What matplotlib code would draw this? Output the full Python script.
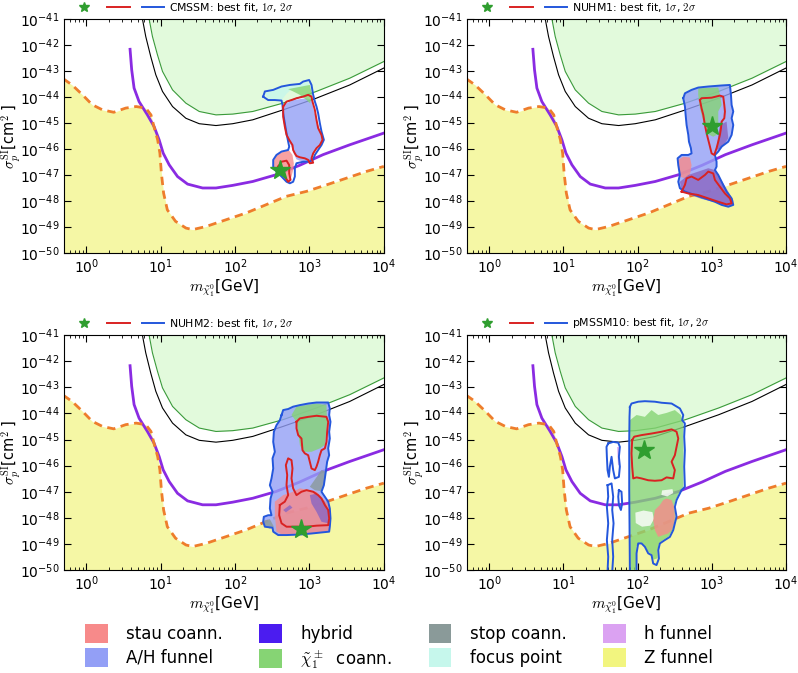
import numpy as np
import matplotlib.pyplot as plt
from matplotlib.lines import Line2D
from matplotlib.patches import Patch

plt.rcParams['mathtext.fontset'] = 'cm'
plt.rcParams['font.family'] = ['DejaVu Sans']
plt.rcParams['axes.unicode_minus'] = False

# all values below are log10(mass / GeV) and log10(sigma / cm^2)

# neutrino floor (orange dashed, yellow below)
floor_logm = [-0.31, -0.19, -0.05, 0.08, 0.22, 0.37, 0.53, 0.67, 0.80, 0.87, 0.91, 0.96, 0.99, 1.01,
              1.04, 1.09, 1.20, 1.34, 1.43, 1.61, 1.88, 2.15, 2.42, 2.69, 2.96, 3.23, 3.50, 3.77, 4.00]
floor_logsig = [-43.30, -43.54, -43.92, -44.30, -44.50, -44.59, -44.43, -44.37, -44.43, -44.69, -45.14,
                -45.65, -46.16, -46.93, -47.70, -48.34, -48.78, -49.04, -49.10, -48.98, -48.72, -48.46,
                -48.14, -47.82, -47.63, -47.38, -47.12, -46.86, -46.67]

# future sensitivity (purple)
future_logm = [0.589, 0.611, 0.643, 0.710, 0.822, 0.912, 0.980, 1.034, 1.115, 1.227, 1.362, 1.564, 1.744,
               1.968, 2.238, 2.553, 2.867, 3.182, 3.542, 4.000]
future_logsig = [-42.17, -42.96, -43.66, -44.18, -44.69, -45.14, -45.65, -46.16, -46.61, -47.06, -47.35,
                 -47.50, -47.50, -47.40, -47.25, -46.99, -46.63, -46.22, -45.84, -45.39]

# black limit
lux_logm = [0.755, 0.80, 0.867, 0.935, 1.025, 1.160, 1.339, 1.519, 1.744, 1.968, 2.238, 2.643, 3.092, 3.542, 4.000]
lux_logsig = [-41.00, -41.68, -42.45, -43.15, -43.79, -44.37, -44.82, -45.03, -45.10, -45.03, -44.88,
              -44.50, -44.05, -43.54, -42.89]

# green limit, excluded above
excl_logm = [0.845, 0.890, 0.957, 1.025, 1.160, 1.339, 1.519, 1.744, 1.968, 2.238, 2.643, 3.092, 3.542, 4.000]
excl_logsig = [-41.00, -41.68, -42.38, -43.02, -43.73, -44.24, -44.56, -44.69, -44.66, -44.56, -44.24,
               -43.79, -43.28, -42.64]

# ---------------- CMSSM
cmssm_best = (2.60, -46.80)
cmssm_2sig = [(2.378, -43.99), (2.401, -43.79), (2.513, -43.73), (2.625, -43.60), (2.737, -43.54),
              (2.871, -43.50), (2.916, -43.41), (2.996, -43.35), (3.028, -43.54), (3.050, -43.92),
              (3.073, -44.18), (3.095, -44.37), (3.117, -44.63), (3.140, -45.01), (3.162, -45.33),
              (3.194, -45.65), (3.162, -45.85), (3.117, -46.04), (3.073, -46.23), (3.050, -46.40),
              (3.005, -46.49), (2.916, -46.49), (2.826, -46.55), (2.804, -46.74), (2.804, -47.06),
              (2.781, -47.26), (2.737, -47.32), (2.692, -47.26), (2.625, -47.06), (2.557, -46.87),
              (2.513, -46.68), (2.513, -46.42), (2.557, -46.23), (2.625, -46.10), (2.714, -46.04),
              (2.728, -45.91), (2.714, -45.72), (2.692, -45.40), (2.669, -45.01), (2.647, -44.63),
              (2.638, -44.31), (2.625, -44.14), (2.535, -44.12), (2.445, -44.12)]
cmssm_1sig_a = [(2.647, -44.37), (2.692, -44.18), (2.759, -44.12), (2.826, -44.05), (2.916, -43.99),
                (2.983, -43.92), (3.028, -43.99), (3.041, -44.18), (3.073, -44.50), (3.095, -44.88),
                (3.117, -45.20), (3.162, -45.46), (3.176, -45.65), (3.140, -45.85), (3.095, -45.97),
                (3.050, -46.17), (3.028, -46.36), (3.050, -46.53), (3.005, -46.55), (2.983, -46.42),
                (2.938, -46.36), (2.871, -46.32), (2.826, -46.27), (2.804, -46.17), (2.781, -46.04),
                (2.772, -45.85), (2.728, -45.65), (2.692, -45.46), (2.669, -45.14), (2.647, -44.76)]
cmssm_1sig_b = [(2.580, -46.68), (2.625, -46.49), (2.692, -46.45), (2.728, -46.62), (2.728, -46.94),
                (2.746, -47.19), (2.714, -47.26), (2.669, -47.06), (2.625, -46.87), (2.580, -46.78)]
cmssm_focus = [(2.401, -43.86), (2.513, -43.76), (2.625, -43.63), (2.737, -43.58), (2.871, -43.54),
               (2.916, -43.45), (2.983, -43.41), (2.996, -43.54), (2.871, -43.67), (2.737, -43.76),
               (2.692, -43.88), (2.647, -44.05), (2.625, -44.14), (2.445, -44.09)]
cmssm_chargino = [(2.714, -43.70), (3.005, -43.54), (3.041, -43.99), (3.005, -44.24), (2.961, -44.12),
                  (2.871, -43.92), (2.781, -43.79)]
cmssm_ah = [(2.647, -44.31), (2.781, -44.12), (2.961, -44.05), (3.028, -44.12), (3.059, -44.50),
            (3.095, -44.88), (3.140, -45.27), (3.176, -45.59), (3.140, -45.85), (3.073, -46.10),
            (3.028, -46.36), (2.983, -46.53), (2.871, -46.45), (2.826, -46.40), (2.790, -46.17),
            (2.759, -45.91), (2.714, -45.65), (2.683, -45.27), (2.656, -44.76)]
cmssm_stau = [(2.513, -46.49), (2.557, -46.23), (2.647, -46.10), (2.728, -46.06), (2.772, -46.23),
              (2.790, -46.55), (2.781, -46.81), (2.759, -47.06), (2.728, -47.26), (2.669, -47.19),
              (2.602, -47.00), (2.535, -46.81)]

# ---------------- NUHM1
nuhm1_best = (3.00, -45.10)
nuhm1_2sig = [(2.615, -44.05), (2.638, -43.86), (2.727, -43.73), (2.817, -43.64), (2.952, -43.60),
              (3.132, -43.56), (3.244, -43.54), (3.258, -43.92), (3.267, -44.31), (3.289, -44.56),
              (3.267, -44.82), (3.289, -45.08), (3.267, -45.46), (3.222, -45.72), (3.132, -45.91),
              (3.087, -46.10), (3.042, -46.23), (3.064, -46.49), (3.064, -46.68), (3.042, -46.81),
              (3.087, -47.00), (3.132, -47.26), (3.199, -47.64), (3.267, -47.90), (3.289, -48.15),
              (3.222, -48.22), (3.132, -48.15), (3.042, -48.03), (2.907, -47.90), (2.772, -47.77),
              (2.638, -47.64), (2.570, -47.51), (2.548, -47.26), (2.570, -47.00), (2.548, -46.62),
              (2.539, -46.36), (2.593, -46.23), (2.683, -46.23), (2.727, -46.17), (2.718, -45.97),
              (2.692, -45.72), (2.683, -45.46), (2.660, -45.08), (2.647, -44.69), (2.638, -44.37)]
nuhm1_1sig_a = [(2.840, -44.12), (2.862, -44.05), (2.997, -44.03), (3.109, -43.95), (3.154, -43.99),
                (3.168, -44.31), (3.177, -44.56), (3.168, -44.82), (3.132, -44.95), (3.123, -45.21),
                (3.109, -45.46), (3.087, -45.72), (3.064, -45.97), (3.033, -46.23), (2.997, -46.17),
                (2.975, -45.91), (2.952, -45.65), (2.930, -45.40), (2.907, -45.08), (2.885, -44.69),
                (2.862, -44.44)]
nuhm1_1sig_b = [(2.593, -47.64), (2.638, -47.38), (2.660, -47.13), (2.727, -47.06), (2.817, -47.19),
                (2.907, -47.00), (2.952, -46.87), (3.019, -46.94), (3.042, -47.19), (3.109, -47.45),
                (3.177, -47.71), (3.244, -47.90), (3.267, -48.09), (3.199, -48.13), (3.087, -48.03),
                (2.952, -47.90), (2.817, -47.77), (2.683, -47.71)]
nuhm1_chargino = [(2.817, -43.67), (3.087, -43.64), (3.109, -43.92), (3.132, -44.31), (3.087, -44.56),
                  (3.087, -45.08), (3.064, -45.46), (3.019, -45.53), (2.930, -45.40), (2.885, -44.95),
                  (2.840, -44.44), (2.817, -43.92)]
nuhm1_stau = [(2.548, -46.42), (2.615, -46.30), (2.705, -46.33), (2.727, -46.62), (2.705, -47.00),
              (2.638, -47.13), (2.570, -47.06), (2.548, -46.74)]
nuhm1_hybrid_a = [(2.570, -47.26), (2.683, -47.00), (2.817, -46.87), (2.952, -46.74), (3.042, -46.81),
                  (3.087, -47.00), (3.154, -47.32), (3.222, -47.64), (3.289, -47.96), (3.289, -48.18),
                  (3.177, -48.18), (3.042, -48.05), (2.862, -47.92), (2.683, -47.74), (2.593, -47.58)]
nuhm1_hybrid_b = [(3.109, -45.08), (3.199, -44.95), (3.222, -45.59), (3.132, -45.97), (3.064, -46.04),
                  (3.087, -45.46)]

# ---------------- NUHM2
nuhm2_best = (2.89, -48.42)
nuhm2_2sig = [(2.625, -44.06), (2.647, -43.87), (2.714, -43.83), (2.781, -43.74), (2.871, -43.68),
              (2.983, -43.62), (3.095, -43.58), (3.252, -43.58), (3.274, -43.81), (3.265, -44.06),
              (3.283, -44.32), (3.265, -44.70), (3.274, -44.96), (3.252, -45.34), (3.265, -45.60),
              (3.238, -45.85), (3.220, -46.23), (3.207, -46.49), (3.194, -46.75), (3.162, -47.00),
              (3.207, -47.19), (3.252, -47.38), (3.274, -47.64), (3.283, -48.02), (3.274, -48.34),
              (3.265, -48.53), (3.162, -48.56), (3.028, -48.60), (2.871, -48.64), (2.692, -48.66),
              (2.580, -48.66), (2.513, -48.53), (2.504, -48.38), (2.401, -48.34), (2.378, -48.15),
              (2.387, -47.96), (2.445, -47.90), (2.490, -47.90), (2.468, -47.64), (2.477, -47.26),
              (2.504, -47.00), (2.468, -46.75), (2.490, -46.49), (2.513, -46.11), (2.504, -45.72),
              (2.535, -45.47), (2.513, -45.09), (2.522, -44.70), (2.557, -44.45), (2.602, -44.26)]
nuhm2_1sig_a = [(2.826, -44.32), (2.871, -44.19), (2.983, -44.13), (3.095, -44.09), (3.229, -44.13),
                (3.252, -44.32), (3.238, -44.70), (3.229, -45.09), (3.207, -45.34), (3.162, -45.41),
                (3.140, -45.60), (3.117, -45.85), (3.095, -46.04), (3.073, -46.17), (3.028, -46.11),
                (3.005, -45.85), (2.983, -45.60), (2.938, -45.53), (2.907, -45.41), (2.893, -44.96),
                (2.849, -44.83), (2.826, -44.57)]
nuhm2_1sig_b = [(2.602, -47.51), (2.669, -47.38), (2.714, -47.13), (2.692, -46.75), (2.701, -46.36),
                (2.683, -45.98), (2.714, -45.72), (2.759, -45.79), (2.772, -46.11), (2.759, -46.49),
                (2.781, -46.87), (2.826, -47.13), (2.893, -47.00), (2.961, -46.94), (3.050, -47.00),
                (3.117, -47.13), (3.162, -47.26), (3.207, -47.51), (3.252, -47.70), (3.265, -48.02),
                (3.252, -48.28), (3.095, -48.30), (2.961, -48.34), (2.826, -48.34), (2.692, -48.34),
                (2.625, -48.21), (2.593, -47.90)]
nuhm2_chargino = [(2.826, -43.74), (3.095, -43.62), (3.229, -43.68), (3.238, -44.32), (3.207, -45.21),
                  (3.140, -45.34), (3.028, -45.47), (2.916, -45.47), (2.871, -45.21), (2.849, -44.70),
                  (2.826, -44.32), (2.759, -44.06)]
nuhm2_stop_a = [(3.005, -46.81), (3.162, -46.17), (3.220, -46.23), (3.207, -46.64), (3.162, -46.98),
                (3.073, -46.94)]
nuhm2_stop_b = [(2.378, -48.12), (2.468, -48.05), (2.522, -48.34), (2.468, -48.41), (2.401, -48.34)]
nuhm2_stau = [(2.535, -47.38), (2.647, -47.13), (2.781, -47.00), (2.871, -46.87), (3.005, -46.94),
              (3.095, -47.00), (3.162, -47.19), (3.252, -47.51), (3.274, -47.90), (3.274, -48.47),
              (3.095, -48.60), (2.871, -48.64), (2.647, -48.66), (2.557, -48.53), (2.535, -47.90)]
nuhm2_hybrid_a = [(3.005, -47.13), (3.095, -47.07), (3.207, -47.38), (3.265, -47.83), (3.252, -48.21),
                  (3.162, -48.15), (3.095, -47.77), (3.028, -47.45)]
nuhm2_hybrid_b = [(2.647, -47.70), (2.737, -47.51), (2.772, -47.61), (2.683, -47.79)]

# ---------------- pMSSM10
pmssm_best = (2.08, -45.39)
pmssm_2sig = [(1.896, -43.75), (1.918, -43.62), (2.008, -43.55), (2.098, -43.53), (2.233, -43.55),
              (2.323, -43.59), (2.458, -43.62), (2.570, -43.81), (2.615, -44.06), (2.601, -44.26),
              (2.637, -44.38), (2.628, -44.89), (2.637, -45.41), (2.628, -46.04), (2.637, -46.81),
              (2.592, -46.94), (2.525, -47.32), (2.502, -47.58), (2.525, -47.96), (2.502, -48.21),
              (2.480, -48.47), (2.435, -48.73), (2.368, -48.85), (2.300, -48.98), (2.278, -49.24),
              (2.287, -49.56), (2.255, -49.81), (2.210, -49.75), (2.188, -49.43), (2.143, -49.36),
              (2.098, -49.11), (2.053, -48.98), (2.008, -48.98), (1.986, -49.36), (1.986, -50.07),
              (1.896, -50.07), (1.891, -48.21), (1.887, -46.94), (1.887, -45.02), (1.891, -44.13)]
pmssm_2sig_b = [(1.604, -45.15), (1.671, -45.09), (1.739, -45.12), (1.761, -45.28), (1.748, -45.66),
                (1.761, -46.04), (1.748, -46.43), (1.694, -46.49), (1.671, -46.17), (1.649, -45.66),
                (1.626, -46.04), (1.613, -46.43), (1.595, -46.17), (1.586, -45.66), (1.581, -45.28)]
pmssm_2sig_c = [(1.595, -46.75), (1.649, -46.68), (1.671, -47.19), (1.658, -47.70), (1.676, -48.21),
                (1.658, -48.85), (1.671, -49.49), (1.658, -50.07), (1.595, -50.07), (1.604, -49.49),
                (1.586, -48.85), (1.604, -48.21), (1.586, -47.58), (1.604, -47.19)]
pmssm_2sig_d = [(1.748, -46.94), (1.783, -47.00), (1.792, -47.45), (1.775, -47.70), (1.748, -47.51),
                (1.739, -47.19)]
pmssm_1sig = [(1.927, -45.02), (1.954, -44.89), (2.053, -44.83), (2.188, -44.77), (2.323, -44.70),
              (2.458, -44.61), (2.525, -44.70), (2.548, -44.96), (2.525, -45.28), (2.502, -45.60),
              (2.458, -45.85), (2.502, -46.17), (2.480, -46.49), (2.390, -46.45), (2.323, -46.56),
              (2.233, -46.58), (2.143, -46.56), (2.053, -46.49), (1.986, -46.45), (1.941, -46.49),
              (1.927, -46.04), (1.918, -45.53)]
pmssm_chargino = [(1.896, -44.26), (1.986, -44.06), (2.098, -44.13), (2.188, -43.87), (2.278, -44.06),
                  (2.390, -43.98), (2.502, -43.87), (2.583, -44.06), (2.619, -44.38), (2.619, -46.81),
                  (2.580, -46.94), (2.515, -47.32), (2.492, -47.58), (2.515, -47.96), (2.492, -48.21),
                  (2.470, -48.47), (2.425, -48.70), (2.360, -48.82), (2.290, -48.96), (2.268, -49.24),
                  (2.270, -49.55), (2.215, -49.60), (2.190, -49.40), (2.143, -49.30), (2.098, -49.08),
                  (2.053, -48.95), (1.986, -49.08), (1.986, -50.00), (1.905, -50.00), (1.896, -46.94)]
pmssm_gap_a = [(1.970, -47.80), (2.080, -47.72), (2.200, -47.78), (2.220, -48.05), (2.170, -48.30),
               (2.060, -48.34), (1.975, -48.20)]
pmssm_gap_b = [(2.330, -46.95), (2.470, -46.90), (2.480, -47.05), (2.400, -47.18), (2.320, -47.12)]
pmssm_stau = [(2.233, -47.70), (2.300, -47.51), (2.345, -47.32), (2.390, -47.26), (2.458, -47.32),
              (2.493, -47.58), (2.502, -47.96), (2.493, -48.21), (2.458, -48.47), (2.412, -48.60),
              (2.345, -48.66), (2.278, -48.73), (2.233, -48.47), (2.210, -48.09)]
pmssm_hfunnel = [(1.721, -45.28), (1.761, -45.28), (1.761, -45.98), (1.730, -45.98)]

# region colours and names for the bottom legend
stau_c, ah_c, hybrid_c, chargino_c = '#f78a8a', '#939ff6', '#4b1cf0', '#86d474'
stop_c, focus_c, hfun_c, zfun_c = '#8a9a99', '#c6f7ec', '#dba2f2', '#f2f57f'
region_colors = [stau_c, ah_c, hybrid_c, chargino_c, stop_c, focus_c, hfun_c, zfun_c]
region_names = ['stau coann.', 'A/H funnel', 'hybrid', r'$\tilde\chi^\pm_1$  coann.',
                'stop coann.', 'focus point', 'h funnel', 'Z funnel']
overlap_c = '#8a66c2'

panels = [
    dict(name='CMSSM', best=cmssm_best, outer=[cmssm_2sig], inner=[cmssm_1sig_a, cmssm_1sig_b],
         fills=[(cmssm_ah, ah_c), (cmssm_focus, focus_c), (cmssm_chargino, chargino_c), (cmssm_stau, stau_c)]),
    dict(name='NUHM1', best=nuhm1_best, outer=[nuhm1_2sig], inner=[nuhm1_1sig_a, nuhm1_1sig_b],
         fills=[(nuhm1_2sig, ah_c), (nuhm1_chargino, chargino_c), (nuhm1_stau, stau_c),
                (nuhm1_hybrid_a, overlap_c), (nuhm1_hybrid_b, overlap_c)]),
    dict(name='NUHM2', best=nuhm2_best, outer=[nuhm2_2sig], inner=[nuhm2_1sig_a, nuhm2_1sig_b],
         fills=[(nuhm2_2sig, ah_c), (nuhm2_chargino, chargino_c), (nuhm2_stau, stau_c),
                (nuhm2_stop_a, stop_c), (nuhm2_stop_b, stop_c), (nuhm2_hybrid_a, overlap_c),
                (nuhm2_hybrid_b, overlap_c)]),
    dict(name='pMSSM10', best=pmssm_best, outer=[pmssm_2sig, pmssm_2sig_b, pmssm_2sig_c, pmssm_2sig_d],
         inner=[pmssm_1sig],
         fills=[(pmssm_chargino, chargino_c), (pmssm_gap_a, 'white'), (pmssm_gap_b, 'white'),
                (pmssm_stau, stau_c), (pmssm_hfunnel, hfun_c)]),
]

# axes boxes in figure fraction: left, bottom, width, height
boxes = [[0.080, 0.624, 0.401, 0.348], [0.585, 0.624, 0.400, 0.348],
         [0.080, 0.153, 0.401, 0.349], [0.585, 0.153, 0.400, 0.349]]

star_c, red_c, blue_c = '#2f9e2f', '#d92222', '#2457dc'


def xy(pts, close=False):
    a = np.array(pts)
    if close:
        a = np.vstack([a, a[:1]])
    return 10.0 ** a[:, 0], 10.0 ** a[:, 1]


fig = plt.figure(figsize=(7.98, 6.73), dpi=100)

for p, box in zip(panels, boxes):
    ax = fig.add_axes(box)
    ax.set_xscale('log')
    ax.set_yscale('log')

    # background limits
    ax.fill_between(10.0 ** np.array(floor_logm), 10.0 ** np.array(floor_logsig), 1e-52,
                    color=zfun_c, alpha=0.7, lw=0, zorder=1)
    ax.fill_between(10.0 ** np.array(excl_logm), 10.0 ** np.array(excl_logsig), 1e-40,
                    color='#e2fadc', lw=0, zorder=1)
    ax.plot(10.0 ** np.array(excl_logm), 10.0 ** np.array(excl_logsig), color='#3a9a3a', lw=0.8, zorder=2)
    ax.plot(10.0 ** np.array(lux_logm), 10.0 ** np.array(lux_logsig), color='black', lw=0.8, zorder=2)
    ax.plot(10.0 ** np.array(future_logm), 10.0 ** np.array(future_logsig), color='#8a2be2', lw=2, zorder=2)
    ax.plot(10.0 ** np.array(floor_logm), 10.0 ** np.array(floor_logsig), color='#ee7d2c', lw=2,
            ls=(0, (3, 2)), zorder=2)

    # coloured regions
    for pts, c in p['fills']:
        x, y = xy(pts)
        ax.fill(x, y, color=c, alpha=0.8, lw=0, zorder=3)
    for pts in p['outer']:
        x, y = xy(pts, close=True)
        ax.plot(x, y, color=blue_c, lw=1.4, zorder=4)
    for pts in p['inner']:
        x, y = xy(pts, close=True)
        ax.plot(x, y, color=red_c, lw=1.4, zorder=4)
    ax.plot(10.0 ** p['best'][0], 10.0 ** p['best'][1], ls='', marker='*', ms=15, color=star_c, zorder=5)

    ax.set_xlim(0.5, 1e4)
    ax.set_ylim(1e-50, 1e-41)
    ax.set_xticks([1, 10, 100, 1e3, 1e4])
    ax.set_yticks([10.0 ** k for k in range(-50, -40)])
    ax.yaxis.set_minor_locator(plt.NullLocator())
    ax.tick_params(which='both', direction='in', top=True, right=True, labelsize=10, pad=3)
    ax.tick_params(which='major', length=5)
    ax.tick_params(which='minor', length=2.5)
    ax.set_xlabel(r'$m_{\tilde\chi^0_1}$[GeV]', fontsize=11, labelpad=1)
    ax.set_ylabel(r'$\sigma_p^{\rm SI}$[cm$^{2}$ ]', fontsize=10.5, labelpad=-2)

    h = [Line2D([], [], ls='', marker='*', ms=7, color=star_c),
         Line2D([], [], color=red_c, lw=1.4),
         Line2D([], [], color=blue_c, lw=1.4)]
    ax.legend(h, ['', '', p['name'] + r': best fit, $1\sigma$, $2\sigma$'], ncol=3, frameon=False,
              loc='center left', bbox_to_anchor=(0.02, 1.05), fontsize=7.8, handlelength=2.1,
              handletextpad=0.4, columnspacing=0.7, borderpad=0.2, borderaxespad=0)

patches = [Patch(facecolor=c, edgecolor='none') for c in region_colors]
fig.legend(patches, region_names, ncol=4, loc='center', bbox_to_anchor=(0.5, 0.038), frameon=False,
           fontsize=12, handlelength=1.35, handleheight=1.35, handletextpad=1.1, columnspacing=2.2,
           labelspacing=0.3)

fig.savefig('out.png', dpi=100)
